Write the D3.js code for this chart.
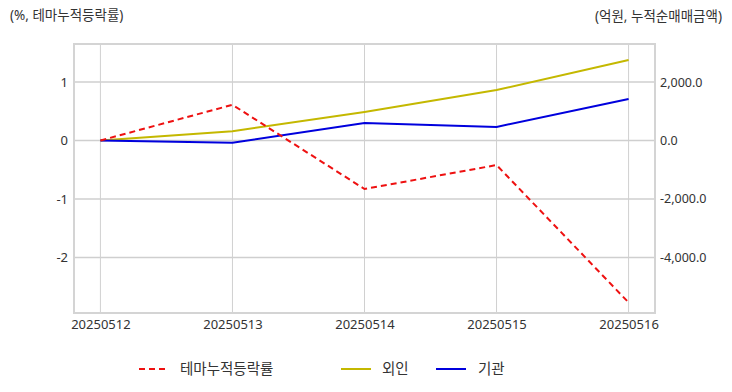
<!DOCTYPE html>
<html><head><meta charset="utf-8">
<script src="https://cdn.jsdelivr.net/npm/d3@7"></script>
<style>body{margin:0;background:#fff;} svg{display:block;font-family:"Noto Sans","Noto Sans CJK KR",sans-serif;}</style>
</head><body><svg id="c" width="732" height="392"></svg>
<script>
const dates = ["20250512","20250513","20250514","20250515","20250516"];
const themeRate = [0, 0.61, -0.83, -0.42, -2.77];
const foreign = [0, 320, 975, 1725, 2755];
const institution = [0, -80, 600, 465, 1420];
const leftTicks = [1, 0, -1, -2];
const rightTicks = [2000, 0, -2000, -4000];
const leftTitle = "(%, 테마누적등락률)";
const rightTitle = "(억원, 누적순매매금액)";
const legendNames = ["테마누적등락률", "외인", "기관"];
const colors = ["#ee1111", "#c4b800", "#0000dd"];

const svg = d3.select("#c");
const L = 74, R = 655, T = 44, B = 313;
const x = d3.scalePoint().domain(dates).range([L, R]).padding(0.2);
const yL = d3.scaleLinear().domain([-2.95, 1.65]).range([B, T]);
const yR = d3.scaleLinear().domain([-5900, 3300]).range([B, T]);
const hyph = f => d => f(d).replace("\u2212", "-");

// grid
const g = svg.append("g");
g.selectAll(".hg").data(leftTicks).join("line")
  .attr("x1", L).attr("x2", R).attr("y1", d => yL(d)).attr("y2", d => yL(d))
  .attr("stroke", "#cfcfcf").attr("stroke-width", 1.5);
g.selectAll(".vg").data(dates).join("line")
  .attr("x1", d => x(d)).attr("x2", d => x(d)).attr("y1", T).attr("y2", B)
  .attr("stroke", "#d0d0d0").attr("stroke-width", 1);
g.append("rect").attr("x", L).attr("y", T).attr("width", R - L).attr("height", B - T)
  .attr("fill", "none").attr("stroke", "#d4d4d4").attr("stroke-width", 2);

// axes
const ax1 = svg.append("g").attr("transform", `translate(${L},0)`)
  .call(d3.axisLeft(yL).tickValues(leftTicks).tickSize(0).tickPadding(6).tickFormat(hyph(d3.format("d"))));
const ax2 = svg.append("g").attr("transform", `translate(${R},0)`)
  .call(d3.axisRight(yR).tickValues(rightTicks).tickSize(0).tickPadding(5).tickFormat(hyph(d3.format(",.1f"))));
const ax3 = svg.append("g").attr("transform", `translate(0,${B})`)
  .call(d3.axisBottom(x).tickSize(0).tickPadding(7));
[ax1, ax2, ax3].forEach(a => {
  a.select(".domain").remove();
  a.selectAll("text").attr("fill", "#333").style("font-size", "12.5px")
    .style("font-family", '"Noto Sans","Noto Sans CJK KR",sans-serif');
});
ax1.selectAll("text").style("font-size", "13px");
ax3.selectAll("text").style("font-size", "13px");

// lines
const lineL = d3.line().x((d, i) => x(dates[i])).y(d => yL(d));
const lineR = d3.line().x((d, i) => x(dates[i])).y(d => yR(d));
svg.append("path").attr("d", lineR(foreign)).attr("fill", "none").attr("stroke", colors[1]).attr("stroke-width", 2);
svg.append("path").attr("d", lineR(institution)).attr("fill", "none").attr("stroke", colors[2]).attr("stroke-width", 2);
svg.append("path").attr("d", lineL(themeRate)).attr("fill", "none").attr("stroke", colors[0]).attr("stroke-width", 2)
  .attr("stroke-dasharray", "6,4");

// titles
svg.append("text").attr("x", 10).attr("y", 20).text(leftTitle).attr("fill", "#333").style("font-size", "13.5px");
svg.append("text").attr("x", 722).attr("y", 21).attr("text-anchor", "end").text(rightTitle).attr("fill", "#333").style("font-size", "13.5px");

// legend
const leg = [
  {x1: 139, x2: 168, tx: 180, dash: "6,4"},
  {x1: 341, x2: 371, tx: 382, dash: null},
  {x1: 436, x2: 466, tx: 478, dash: null}
];
leg.forEach((l, i) => {
  svg.append("line").attr("x1", l.x1).attr("x2", l.x2).attr("y1", 369).attr("y2", 369)
    .attr("stroke", colors[i]).attr("stroke-width", 2).attr("stroke-dasharray", l.dash);
  svg.append("text").attr("x", l.tx).attr("y", 374).text(legendNames[i]).attr("fill", "#333").style("font-size", "14.5px");
});
</script></body></html>
